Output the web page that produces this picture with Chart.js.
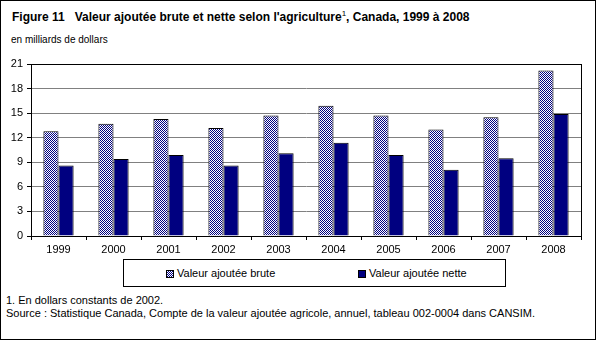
<!DOCTYPE html>
<html lang="fr">
<head>
<meta charset="utf-8">
<script src="https://cdn.jsdelivr.net/npm/chart.js@4"></script>
<style>
  body { margin: 0; background: #fff; }
  #cadre { position: relative; width: 596px; height: 340px; font-family: "Liberation Sans", Arial, sans-serif; color: #000; overflow: hidden; }
  #bordure { position: absolute; left: 0; top: 0; width: 596px; height: 340px; box-sizing: border-box; border: 1px solid #000; pointer-events: none; }
  #graphique { position: absolute; left: 0; top: 0; }
  .texte { position: absolute; white-space: nowrap; }
  #titre { left: 12px; top: 10px; font-size: 12px; font-weight: bold; }
  #titre sup { font-size: 8px; font-weight: normal; vertical-align: 5px; line-height: 0; }
  #unite { left: 11px; top: 34px; font-size: 10px; }
  #legende { position: absolute; left: 123px; top: 259px; width: 383px; height: 28px; box-sizing: border-box; border: 1px solid #000; font-size: 11px; }
  .item { position: absolute; top: 7px; }
  .marque { display: inline-block; width: 6px; height: 6px; border: 1px solid #000; margin-right: 3px; vertical-align: -1px; }
  #notes { left: 6px; top: 294px; font-size: 11px; line-height: 13px; }
</style>
</head>
<body>
<div id="cadre">
  <div class="texte" id="titre">Figure 11&nbsp;&nbsp; Valeur ajoutée brute et nette selon l'agriculture<sup>1</sup>, Canada, 1999 à 2008</div>
  <div class="texte" id="unite">en milliards de dollars</div>
  <canvas id="graphique" width="596" height="256"></canvas>
  <div id="legende">
    <span class="item" style="left:42px"><span class="marque" id="marque-brute"></span>Valeur ajoutée brute</span>
    <span class="item" style="left:234px"><span class="marque" style="background:#000080"></span>Valeur ajoutée nette</span>
  </div>
  <div class="texte" id="notes">1. En dollars constants de 2002.<br>Source : Statistique Canada, Compte de la valeur ajoutée agricole, annuel, tableau 002-0004 dans CANSIM.</div>
  <div id="bordure"></div>
</div>
<script>
const annees = ["1999", "2000", "2001", "2002", "2003", "2004", "2005", "2006", "2007", "2008"];
const valeurBrute = [12.8, 13.7, 14.3, 13.2, 14.7, 15.9, 14.7, 13.0, 14.5, 20.2];
const valeurNette = [8.6, 9.4, 9.9, 8.6, 10.1, 11.4, 9.9, 8.1, 9.5, 14.9];
const axeMin = 0;
const axeMax = 21;
const axePas = 3;

// Motif damier bleu / blanc pour la valeur brute
function creerDamier() {
  const c = document.createElement("canvas");
  c.width = 2;
  c.height = 2;
  const ctx = c.getContext("2d");
  ctx.fillStyle = "#ffffff";
  ctx.fillRect(0, 0, 2, 2);
  ctx.fillStyle = "#000080";
  ctx.fillRect(0, 0, 1, 1);
  ctx.fillRect(1, 1, 1, 1);
  return ctx.createPattern(c, "repeat");
}

document.getElementById("marque-brute").style.background =
  "repeating-conic-gradient(#000080 0 25%, #fff 0 50%) 0 0 / 2px 2px";

// Cadre noir autour de la zone du graphique
const cadreZone = {
  id: "cadreZone",
  beforeDatasetsDraw(chart) {
    const { ctx, chartArea } = chart;
    ctx.save();
    ctx.strokeStyle = "#000";
    ctx.lineWidth = 1;
    ctx.strokeRect(Math.round(chartArea.left) + 0.5, Math.round(chartArea.top) + 0.5,
      Math.round(chartArea.right - chartArea.left), Math.round(chartArea.bottom - chartArea.top));
    ctx.restore();
  }
};

const police = { family: "'Liberation Sans', Arial, sans-serif", size: 11 };

new Chart(document.getElementById("graphique"), {
  type: "bar",
  data: {
    labels: annees,
    datasets: [
      {
        label: "Valeur ajoutée brute",
        data: valeurBrute,
        backgroundColor: creerDamier(),
        borderColor: "#000",
        borderWidth: 1,
        barPercentage: 1,
        categoryPercentage: 0.55
      },
      {
        label: "Valeur ajoutée nette",
        data: valeurNette,
        backgroundColor: "#000080",
        borderColor: "#000",
        borderWidth: 1,
        barPercentage: 1,
        categoryPercentage: 0.55
      }
    ]
  },
  options: {
    responsive: false,
    animation: false,
    devicePixelRatio: 1,
    layout: { padding: { top: 64, right: 15, left: 0, bottom: 0 } },
    plugins: {
      legend: { display: false },
      title: { display: false },
      tooltip: { enabled: false }
    },
    scales: {
      x: {
        offset: true,
        grid: { offset: true, drawOnChartArea: false, drawTicks: true, tickLength: 4, tickColor: "#000" },
        border: { color: "#000" },
        ticks: { color: "#000", font: police, padding: 3, maxRotation: 0 },
        afterFit(scale) { scale.height = 20; }
      },
      y: {
        min: axeMin,
        max: axeMax,
        grid: { color: "#808080", tickColor: "#000", tickLength: 4 },
        border: { color: "#000" },
        ticks: { stepSize: axePas, color: "#000", font: police, padding: 4 },
        afterFit(scale) { scale.width = 31; }
      }
    }
  },
  plugins: [cadreZone]
});
</script>
</body>
</html>
